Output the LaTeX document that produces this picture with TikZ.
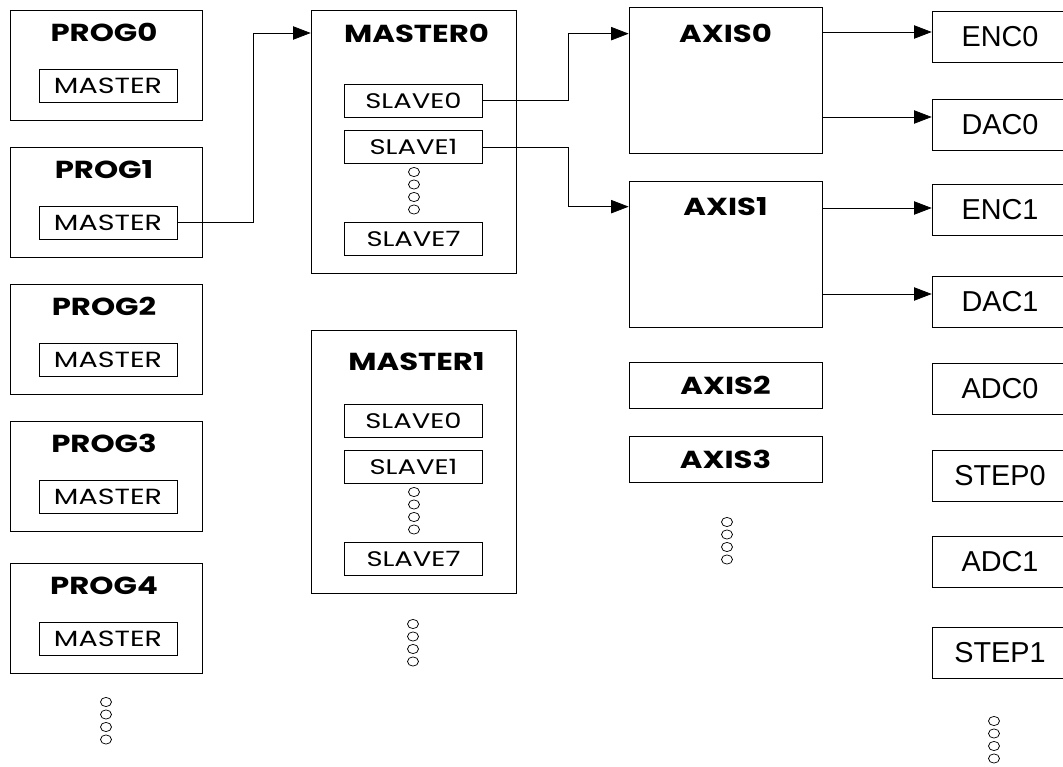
\documentclass[tikz,border=0pt]{standalone}
\usepackage{fontspec}
\setmainfont{Liberation Sans}
\newfontfamily\titlefont{Poppins}[FakeStretch=1.25]
\newfontfamily\thinfont{Poppins}[FakeStretch=1.3]
\usetikzlibrary{arrows.meta,calc,positioning}
\tikzset{>={Triangle[length=10pt,width=7.6pt]},line width=.6pt,
  every node/.style={inner sep=0pt},
  ttl/.style={font=\titlefont\bfseries\fontsize{14}{14}\selectfont},
  progbox/.style={draw,minimum width=3.84cm,minimum height=2.2cm},
  masterbox/.style={draw,minimum width=4.1cm,minimum height=5.26cm},
  slavebox/.style={draw,minimum width=2.76cm,minimum height=.66cm,
    font=\thinfont\fontsize{12}{12}\selectfont},
  axisbox/.style={draw,minimum width=3.86cm,minimum height=#1},
  iobox/.style={draw,minimum width=2.72cm,minimum height=1.02cm,
    font=\fontsize{16.4}{16.4}\selectfont},
  link/.style={->}}
\newcommand\ringstack[1]{\foreach \r in {0,...,3}{
  \draw ($(#1)+(0,12.5*\r)$) ellipse [x radius=5.5,y radius=4.6];}}

\begin{document}
\begin{tikzpicture}[x=.02cm,y=-.02cm]
\useasboundingbox (0,0) rectangle (1063,767);
\foreach \k/\y in {0/65,1/202,2/339,3/476,4/618}{
  \node[progbox] (p\k) at (106,\y) {};
  \node[ttl] (pt\k) at ($(p\k.north)+(-2,23)$) {PROG\k};
  \node[slavebox,font=\thinfont\fontsize{12.5}{12.5}\selectfont] (pm\k) at ($(p\k.north)+(2,76)$) {MASTER};
}
\ringstack{106,702}
\foreach \k/\y/\t in {0/10/23,1/330/32}{
  \node[masterbox,anchor=north] (M\k) at (413.5,\y) {};
  \node[ttl] (mt\k) at ($(M\k.north)+(3,\t)$) {MASTER\k};
  \foreach \j/\d in {0/90.5,1/137,7/228.5}
    \node[slavebox] (s\k\j) at ($(M\k.north)+(0,\d)$) {SLAVE\j};
}
\ringstack{414,172}
\ringstack{414,492}
\ringstack{413,624}
\node[axisbox=2.92cm] (A0) at (725.5,80) {};
\node[ttl] (at0) at ($(A0.north)+(0,27)$) {AXIS0};
\node[axisbox=2.92cm] (A1) at (725.5,254) {};
\node[ttl] (at1) at ($(A1.north)+(0,26)$) {AXIS1};
\node[axisbox=.92cm,ttl] (A2) at (725.5,385.5) {AXIS2};
\node[axisbox=.92cm,ttl] (A3) at (725.5,459) {AXIS3};
\ringstack{727,522}
\foreach \n/\y in {ENC0/37,DAC0/124.5,ENC1/209.5,DAC1/301.5,ADC0/388.5,STEP0/476,ADC1/561.5,STEP1/653}
  \node[iobox] (\n) at (1000,\y) {\n};
\ringstack{994,721}
\draw[link] (pm1.east) -- ++(76,0) |- (mt0 -| M0.west);
\draw[link] (s00.east) -- ++(86,0) |- (at0 -| A0.west);
\draw[link] (s01.east) -- ++(86,0) |- (at1 -| A1.west);
\foreach \a/\n/\d in {A0/ENC0/-5,A0/DAC0/-7.5,A1/ENC1/-1.5,A1/DAC1/-7.5}{
  \coordinate (\n p) at ($(\n.west)+(0,\d)$);
  \draw[link] (\n p -| \a.east) -- (\n p);
}
\end{tikzpicture}
\end{document}
